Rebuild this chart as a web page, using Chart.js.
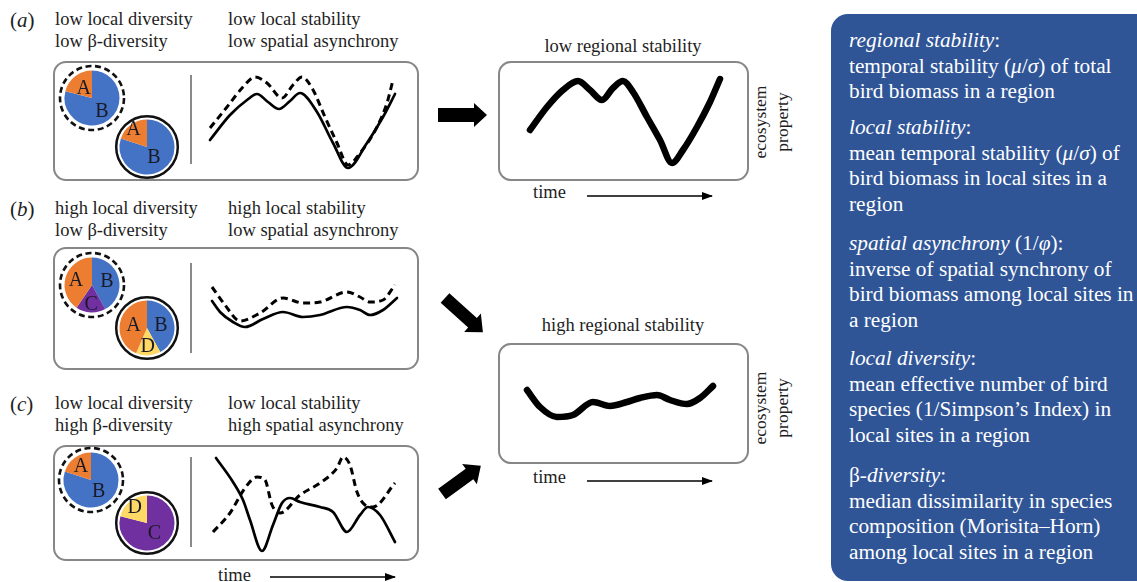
<!DOCTYPE html>
<html>
<head>
<meta charset="utf-8">
<script src="https://cdn.jsdelivr.net/npm/chart.js@4.4.1/dist/chart.umd.min.js"></script>
<style>
  html, body { margin: 0; padding: 0; background: #fff; }
  #fig { position: relative; width: 1137px; height: 582px; overflow: hidden;
         font-family: "Liberation Serif", "DejaVu Serif", serif; color: #1e1e1e; }
  .t { position: absolute; white-space: nowrap; font-size: 18.5px; line-height: 22px; }
  .tag { position: absolute; font-size: 21px; line-height: 22px; white-space: nowrap; }
  .box { position: absolute; border: 2px solid #878787; border-radius: 13px; box-sizing: border-box; }
  .sep { position: absolute; width: 1.6px; background: #8a8a8a; }
  .yl { position: absolute; width: 120px; height: 44px; font-size: 17.5px; line-height: 22px;
        text-align: center; transform: rotate(-90deg); white-space: nowrap; }
  canvas { position: absolute; }
  #defs { position: absolute; left: 831px; top: 14px; width: 330px; height: 567px;
          background: #2f5597; border-radius: 17px 0 0 17px; color: #fff; }
  #defs .d { position: absolute; left: 18px; font-family: "Liberation Serif", serif;
             font-size: 21.3px; line-height: 25.7px; white-space: nowrap; }
</style>
</head>
<body>
<div id="fig">
  <!-- panel (a) -->
  <div class="tag" style="left:10px;top:9px">(<i>a</i>)</div>
  <div class="t" style="left:55px;top:8px">low local diversity<br>low β-diversity</div>
  <div class="t" style="left:228px;top:8px">low local stability<br>low spatial asynchrony</div>
  <div class="box" style="left:53px;top:61px;width:366px;height:120px"></div>
  <div class="sep" style="left:190px;top:75px;height:89px"></div>

  <!-- panel (b) -->
  <div class="tag" style="left:10px;top:198px">(<i>b</i>)</div>
  <div class="t" style="left:55px;top:197px">high local diversity<br>low β-diversity</div>
  <div class="t" style="left:228px;top:197px">high local stability<br>low spatial asynchrony</div>
  <div class="box" style="left:53px;top:247px;width:366px;height:123px"></div>
  <div class="sep" style="left:190px;top:263px;height:90px"></div>

  <!-- panel (c) -->
  <div class="tag" style="left:10px;top:393px">(<i>c</i>)</div>
  <div class="t" style="left:55px;top:392px">low local diversity<br>high β-diversity</div>
  <div class="t" style="left:228px;top:392px">low local stability<br>high spatial asynchrony</div>
  <div class="box" style="left:53px;top:445px;width:366px;height:116px"></div>
  <div class="sep" style="left:190px;top:457px;height:90px"></div>
  <div class="t" style="left:218px;top:564px">time</div>

  <!-- regional outcomes -->
  <div class="t" style="left:498px;width:250px;text-align:center;top:35px">low regional stability</div>
  <div class="box" style="left:498px;top:61px;width:251px;height:120px"></div>
  <div class="t" style="left:533px;top:181px">time</div>
  <div class="yl" style="left:711px;top:100px">ecosystem<br>property</div>

  <div class="t" style="left:498px;width:250px;text-align:center;top:314px">high regional stability</div>
  <div class="box" style="left:498px;top:343px;width:251px;height:121px"></div>
  <div class="t" style="left:533px;top:466px">time</div>
  <div class="yl" style="left:711px;top:386px">ecosystem<br>property</div>

  <svg width="1137" height="582" style="position:absolute;left:0;top:0">
    <defs>
      <marker id="ah" markerWidth="11" markerHeight="8" refX="10" refY="4" orient="auto" markerUnits="userSpaceOnUse">
        <path d="M0,0 L11,4 L0,8 z" fill="#000"/>
      </marker>
    </defs>
    <line x1="587" y1="196" x2="712" y2="196" stroke="#000" stroke-width="1.4" marker-end="url(#ah)"/>
    <line x1="587" y1="481" x2="712" y2="481" stroke="#000" stroke-width="1.4" marker-end="url(#ah)"/>
    <line x1="270" y1="577" x2="395" y2="577" stroke="#000" stroke-width="1.4" marker-end="url(#ah)"/>
    <g transform="translate(438,115)"><path d="M0,-7 H36 V-12 L49,0 L36,12 V7 H0 Z" fill="#000"/></g>
    <g transform="translate(445,298) rotate(42)"><path d="M0,-6.5 H37 V-12.5 L51,0 L37,12.5 V6.5 H0 Z" fill="#000"/></g>
    <g transform="translate(442,494) rotate(-36)"><path d="M0,-6.5 H34 V-12.5 L48,0 L34,12.5 V6.5 H0 Z" fill="#000"/></g>
  </svg>

  <div id="defs">
    <div class="d" style="top:14px"><i>regional stability</i>:<br>temporal stability (<i>μ</i>/<i>σ</i>) of total<br>bird biomass in a region</div>
    <div class="d" style="top:101px"><i>local stability</i>:<br>mean temporal stability (<i>μ</i>/<i>σ</i>) of<br>bird biomass in local sites in a<br>region</div>
    <div class="d" style="top:217px"><i>spatial asynchrony</i> (1/<i>φ</i>):<br>inverse of spatial synchrony of<br>bird biomass among local sites in<br>a region</div>
    <div class="d" style="top:332px"><i>local diversity</i>:<br>mean effective number of bird<br>species (1/Simpson’s Index) in<br>local sites in a region</div>
    <div class="d" style="top:449px">β-<i>diversity</i>:<br>median dissimilarity in species<br>composition (Morisita–Horn)<br>among local sites in a region</div>
  </div>
</div>

<script>
// ---- species composition of the two local sites in each scenario (% of biomass) ----
const speciesA1 = ['B', 'A'];        const shareA1 = [79, 21];
const speciesA2 = ['B', 'A'];        const shareA2 = [80, 20];
const speciesB1 = ['B', 'C', 'A'];   const shareB1 = [42, 17.5, 40.5];
const speciesB2 = ['B', 'D', 'A'];   const shareB2 = [42, 14.5, 43.5];
const speciesC1 = ['B', 'A'];        const shareC1 = [80, 20];
const speciesC2 = ['C', 'D'];        const shareC2 = [79, 21];

// ---- local biomass through time: site 1 (solid) and site 2 (dashed) ----
const timeA1 = [1.0, 3.0, 4.7, 5.7, 6.8, 7.9, 9.0, 10.0, 11.7, 13.3, 14.8, 16.7, 18.3, 19.5];
const massA1 = [3.2, 5.7, 7.2, 7.8, 7.0, 6.3, 7.1, 7.9, 6.0, 2.9, 0.4, 2.9, 5.5, 7.8];
const timeA2 = [1.0, 2.7, 4.3, 5.5, 6.7, 8.2, 9.3, 10.2, 11.2, 12.5, 13.7, 14.8, 16.0, 17.7, 18.7, 19.3];
const massA2 = [4.4, 6.5, 8.5, 9.5, 8.9, 7.4, 8.7, 9.5, 8.4, 5.5, 2.9, 0.7, 1.9, 4.5, 6.9, 9.2];

const timeB1 = [1.2, 2.0, 3.3, 4.5, 6.3, 8.3, 10.3, 12.0, 14.7, 16.0, 17.0, 18.3, 19.7];
const massB1 = [6.1, 5.0, 4.0, 3.5, 4.3, 5.0, 4.5, 4.7, 5.5, 5.2, 4.7, 5.2, 6.4];
const timeB2 = [1.2, 2.5, 4.0, 6.0, 8.3, 10.3, 12.0, 14.7, 16.0, 17.0, 18.3, 19.5];
const massB2 = [7.5, 5.7, 4.1, 4.9, 6.4, 5.9, 6.0, 7.0, 6.5, 6.0, 6.2, 7.7];

const timeC1 = [1.6, 3.3, 4.3, 5.0, 6.2, 7.3, 8.2, 9.0, 10.0, 12.0, 13.3, 14.7, 16.0, 16.8, 18.0, 19.5];
const massC1 = [9.7, 7.3, 5.5, 3.5, 0.4, 3.0, 5.2, 5.7, 5.3, 4.8, 4.3, 2.3, 4.0, 4.8, 4.0, 1.3];
const timeC2 = [1.3, 3.0, 4.5, 5.7, 6.5, 7.2, 8.0, 10.0, 12.0, 13.7, 14.3, 15.0, 15.7, 16.5, 17.3, 19.5];
const massC2 = [2.3, 4.2, 6.7, 7.8, 7.5, 5.0, 4.2, 6.0, 7.2, 8.7, 9.8, 9.0, 6.3, 5.0, 4.8, 7.2];

// ---- regional (total) biomass through time ----
const timeRegionLow  = [2.0, 3.7, 5.3, 6.8, 8.0, 9.2, 10.3, 11.3, 12.3, 13.7, 15.0, 16.2, 17.3, 18.7, 20.0, 21.0];
const massRegionLow  = [4.0, 6.3, 8.0, 8.9, 8.0, 7.0, 8.2, 8.9, 7.8, 5.3, 3.0, 0.7, 2.0, 4.3, 6.8, 9.1];
const timeRegionHigh = [1.7, 3.0, 4.7, 6.3, 8.3, 10.0, 11.7, 13.0, 14.7, 16.0, 17.7, 19.0, 20.3];
const massRegionHigh = [6.2, 4.5, 3.5, 3.7, 5.0, 4.6, 5.0, 5.4, 5.7, 5.2, 4.8, 5.4, 6.6];

// ---- drawing ----
const speciesColor = { A: '#ed7d31', B: '#4472c4', C: '#7030a0', D: '#ffd966' };
Chart.defaults.font.family = '"Liberation Serif", serif';

// outline ring around each site pie, and the species letters on the slices
const sitePiePlugin = {
  id: 'sitePie',
  afterDatasetsDraw(chart, args, opts) {
    const ctx = chart.ctx;
    const arcs = chart.getDatasetMeta(0).data;
    if (!arcs.length) return;
    const cx = arcs[0].x, cy = arcs[0].y, R = arcs[0].outerRadius;
    ctx.save();
    ctx.beginPath();
    ctx.arc(cx, cy, R + opts.ringGap, 0, Math.PI * 2);
    ctx.lineWidth = opts.ringWidth;
    ctx.strokeStyle = '#111';
    ctx.setLineDash(opts.dashed ? [6, 3.6] : []);
    ctx.stroke();
    ctx.setLineDash([]);
    ctx.fillStyle = '#1a1a26';
    ctx.font = '20px "Liberation Serif", serif';
    ctx.textAlign = 'center';
    ctx.textBaseline = 'middle';
    const labels = chart.data.labels;
    arcs.forEach((arc, i) => {
      const mid = (arc.startAngle + arc.endAngle) / 2;
      const r = arc.outerRadius * opts.labelRadius[i];
      ctx.fillText(labels[i], arc.x + Math.cos(mid) * r, arc.y + Math.sin(mid) * r + 1);
    });
    ctx.restore();
  }
};

function sitePie(cx, cy, species, share, dashed, labelRadius) {
  const size = 80;
  const c = document.createElement('canvas');
  c.width = size; c.height = size;
  c.style.left = (cx - size / 2) + 'px';
  c.style.top = (cy - size / 2) + 'px';
  document.getElementById('fig').appendChild(c);
  new Chart(c, {
    type: 'pie',
    data: {
      labels: species,
      datasets: [{ data: share, backgroundColor: species.map(s => speciesColor[s]), borderWidth: 0 }]
    },
    options: {
      responsive: false, animation: false, events: [],
      radius: 27.5,
      layout: { padding: 0 },
      plugins: {
        legend: { display: false }, tooltip: { enabled: false },
        sitePie: { dashed, ringGap: dashed ? 4.5 : 3.3, ringWidth: dashed ? 2.6 : 2.5, labelRadius }
      }
    },
    plugins: [sitePiePlugin]
  });
}

function series(t, v, width, dash) {
  return {
    data: t.map((x, i) => ({ x, y: v[i] })),
    borderColor: '#000', borderWidth: width, borderDash: dash || [],
    borderCapStyle: dash ? 'butt' : 'round', borderJoinStyle: 'round',
    cubicInterpolationMode: 'monotone', pointRadius: 0, fill: false, clip: false
  };
}

function timeChart(left, top, width, height, tMax, datasets) {
  const c = document.createElement('canvas');
  c.width = width; c.height = height;
  c.style.left = left + 'px'; c.style.top = top + 'px';
  document.getElementById('fig').appendChild(c);
  new Chart(c, {
    type: 'line',
    data: { datasets },
    options: {
      responsive: false, animation: false, events: [],
      layout: { padding: 0 },
      plugins: { legend: { display: false }, tooltip: { enabled: false } },
      scales: {
        x: { type: 'linear', display: false, min: 0, max: tMax },
        y: { display: false, min: 0, max: 10 }
      }
    }
  });
}

// site pies: dashed ring = site 1, solid ring = site 2
sitePie(91.5, 97.5, speciesA1, shareA1, true,  [0.59, 0.49]);
sitePie(147, 146.5, speciesA2, shareA2, false, [0.43, 0.83]);
sitePie(91.5, 285,  speciesB1, shareB1, true,  [0.56, 0.67, 0.61]);
sitePie(146.5, 328, speciesB2, shareB2, false, [0.52, 0.65, 0.50]);
sitePie(91,   480,  speciesC1, shareC1, true,  [0.47, 0.62]);
sitePie(147, 522.5, speciesC2, shareC2, false, [0.44, 0.73]);

// local time series (site 1 solid, site 2 dashed)
timeChart(200, 72, 200, 100, 20, [series(timeA1, massA1, 2.7), series(timeA2, massA2, 3, [7, 4.5])]);
timeChart(200, 262, 200, 100, 20, [series(timeB1, massB1, 2.7), series(timeB2, massB2, 3, [7, 4.5])]);
timeChart(200, 455, 200, 100, 20, [series(timeC1, massC1, 2.7), series(timeC2, massC2, 3, [7, 4.5])]);

// regional totals
timeChart(510, 70, 220, 100, 22, [series(timeRegionLow, massRegionLow, 6.5)]);
timeChart(510, 352, 220, 100, 22, [series(timeRegionHigh, massRegionHigh, 6.5)]);
</script>
</body>
</html>
